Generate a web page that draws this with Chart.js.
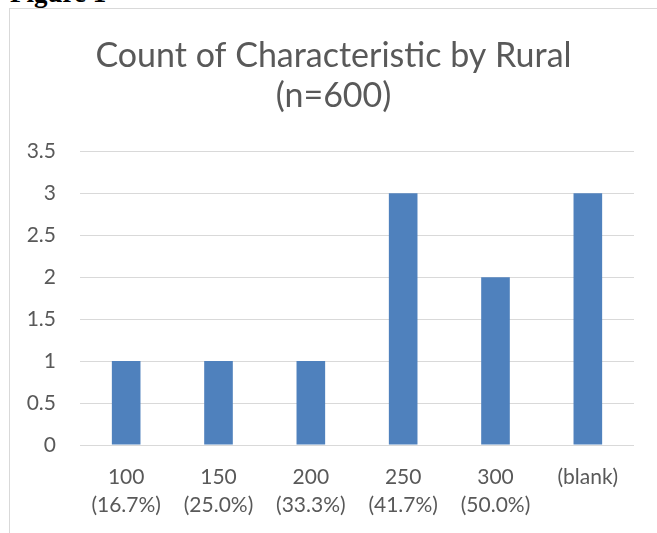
<!DOCTYPE html>
<html>
<head>
<meta charset="utf-8">
<script src="https://cdn.jsdelivr.net/npm/chart.js@4/dist/chart.umd.min.js"></script>
<style>
  body { margin: 0; background: #fff; overflow: hidden; }
  #fig { position: absolute; left: 10px; top: -20px; font: bold 27px/27px "Liberation Serif", serif; color: #000; white-space: nowrap; }
  #frame { position: absolute; left: 9px; top: 8px; width: 648px; height: 525px;
           border-left: 1px solid #d9d9d9; border-top: 1px solid #d9d9d9; background: #fff; }
  #wrap { position: absolute; left: 0; top: 0; width: 647px; height: 524px; }
</style>
</head>
<body>
<div id="fig">Figure 1</div>
<div id="frame"><div id="wrap"><canvas id="myChart"></canvas></div></div>
<script>
// Chart data
const titleLines = ['Count of Characteristic by Rural', '(n=600)'];
const categories = [
    ['100', '(16.7%)'],
    ['150', '(25.0%)'],
    ['200', '(33.3%)'],
    ['250', '(41.7%)'],
    ['300', '(50.0%)'],
    ['(blank)']
];
const counts = [1, 1, 1, 3, 2, 3];
const yMax = 3.5;
const yStep = 0.5;

const textColor = '#595959';
const fontFamily = 'Lato, "Open Sans", sans-serif';

let ctx = document.getElementById('myChart').getContext('2d');
let myChart = new Chart(ctx, {
    type: 'bar',
    data: {
        labels: categories,
        datasets: [{
            label: 'Count',
            data: counts,
            backgroundColor: '#4f81bd',
            borderWidth: 0,
            barPercentage: 0.31,
            categoryPercentage: 1
        }]
    },
    options: {
        responsive: true,
        maintainAspectRatio: false,
        animation: false,
        layout: { padding: 0 },
        plugins: {
            legend: { display: false },
            tooltip: { enabled: false },
            title: {
                display: true,
                text: titleLines,
                color: textColor,
                font: { family: fontFamily, size: 34, weight: 'normal', lineHeight: 1.18 },
                padding: { top: 27, bottom: 35 }
            }
        },
        scales: {
            x: {
                grid: { display: false, drawTicks: false },
                border: { display: false },
                ticks: {
                    color: textColor,
                    font: { family: fontFamily, size: 21, lineHeight: 1.33 },
                    padding: 18,
                    maxRotation: 0,
                    autoSkip: false
                },
                afterFit: function(scale) { scale.height = 88; }
            },
            y: {
                min: 0,
                max: yMax,
                grid: { color: '#d9d9d9', lineWidth: 1, drawTicks: false },
                border: { display: false },
                ticks: {
                    stepSize: yStep,
                    color: textColor,
                    font: { family: fontFamily, size: 21 },
                    padding: 24,
                    callback: function(value) { return String(value); }
                },
                afterFit: function(scale) { scale.width = 70; }
            },
            // empty right-hand axis, only keeps the right margin so the title stays centred
            yRight: {
                position: 'right',
                min: 0,
                max: yMax,
                grid: { display: false, drawTicks: false },
                border: { display: false },
                ticks: { display: false },
                afterFit: function(scale) { scale.width = 23; }
            }
        }
    }
});
</script>
</body>
</html>
